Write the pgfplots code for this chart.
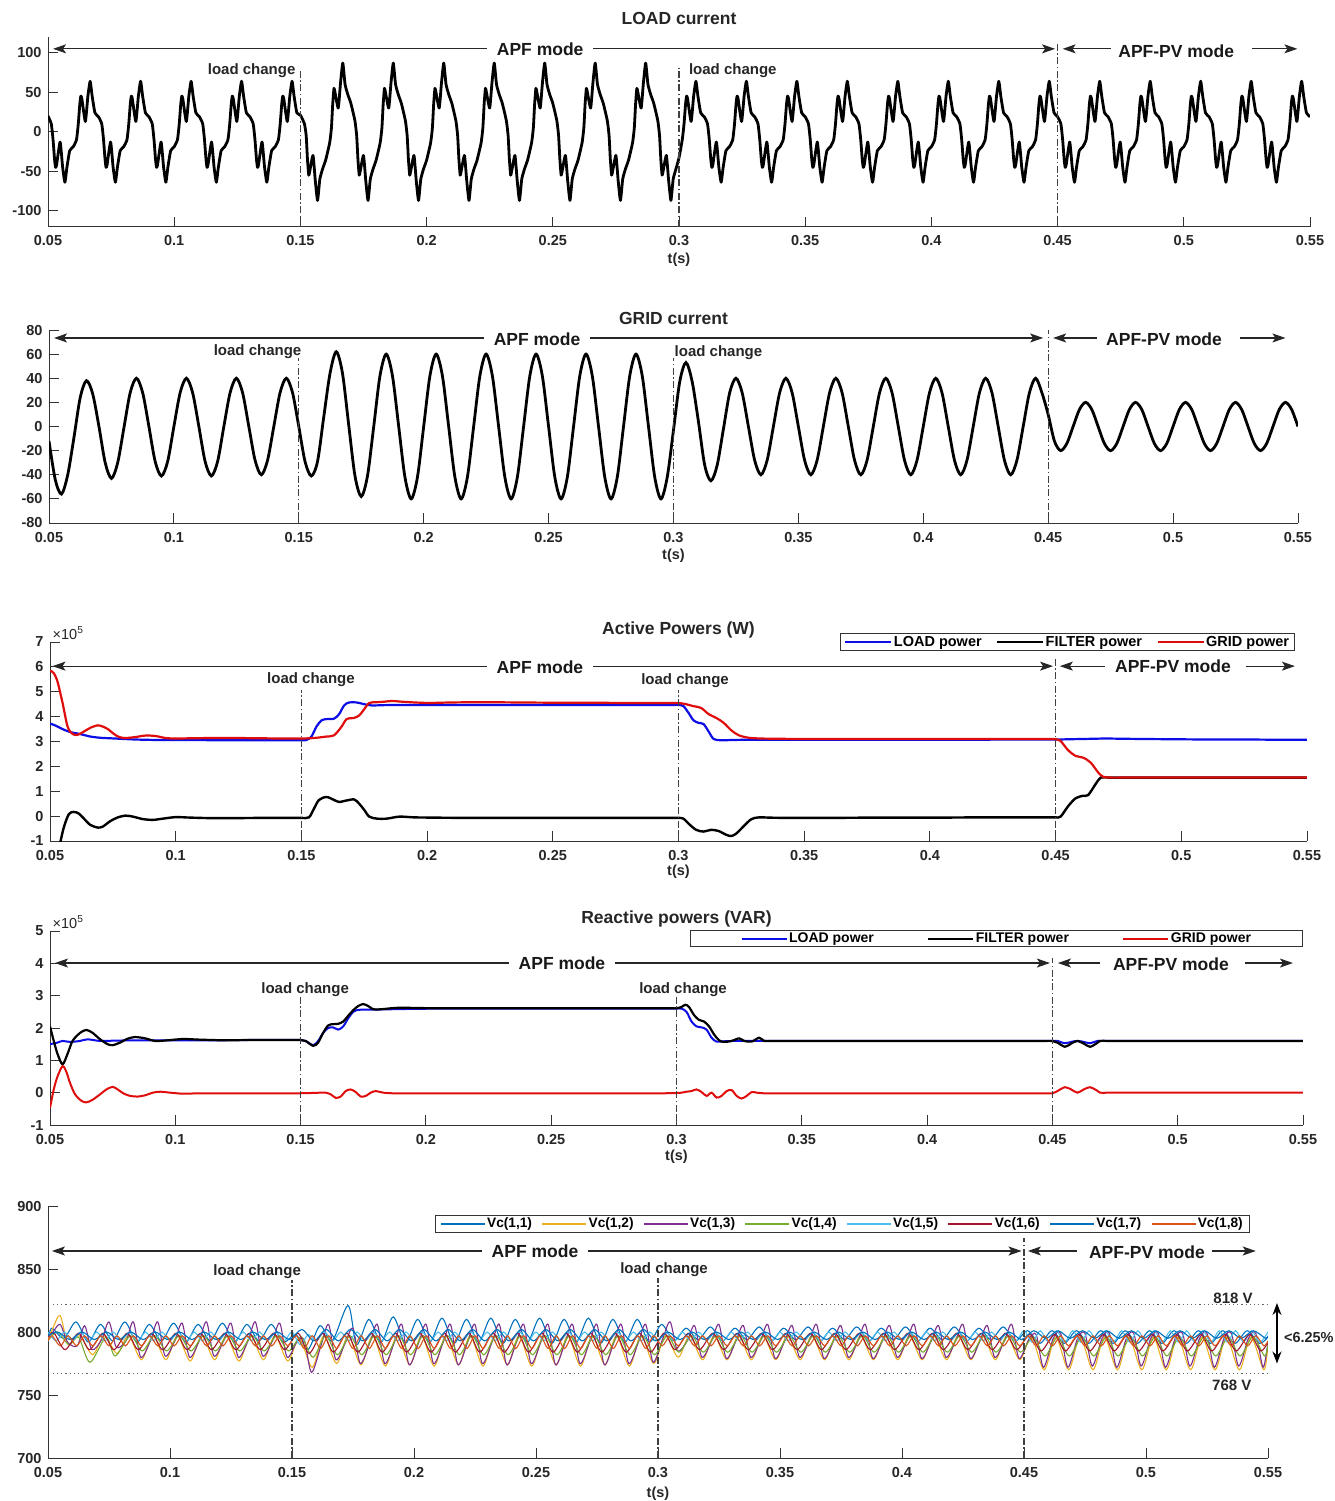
\documentclass[border=0pt]{standalone}
\usepackage{fontspec}
\setmainfont{Liberation Sans}
\usepackage{pgfplots}
\pgfplotsset{compat=1.18}
\usetikzlibrary{arrows.meta}
\newcommand{\tkf}{\fontsize{14.5}{16}\selectfont\bfseries}
\newcommand{\ttf}{\fontsize{17.5}{19}\selectfont\bfseries}
\newcommand{\lcf}{\fontsize{15}{16}\selectfont\bfseries}
\definecolor{mblue}{rgb}{0.05,0.05,0.9}
\definecolor{mred}{rgb}{0.88,0.05,0.05}
\definecolor{vca}{rgb}{0,0.447,0.741}
\definecolor{vcb}{rgb}{0.929,0.694,0.125}
\definecolor{vcc}{rgb}{0.494,0.184,0.556}
\definecolor{vcd}{rgb}{0.466,0.674,0.188}
\definecolor{vce}{rgb}{0.301,0.745,0.933}
\definecolor{vcf}{rgb}{0.635,0.078,0.184}
\definecolor{vcg}{rgb}{0,0.447,0.741}
\definecolor{vch}{rgb}{0.85,0.325,0.098}
\tikzset{
 dd/.style={line width=1.1pt, black!75, dash pattern=on 7pt off 2.5pt on 1.5pt off 2.5pt},
 arr/.style={line width=1.1pt, black!85, -{Stealth[length=13pt,width=9pt,inset=3pt]}},
 darr/.style={line width=1.1pt, black!85, {Stealth[length=13pt,width=9pt,inset=3pt]}-{Stealth[length=13pt,width=9pt,inset=3pt]}},
 mode/.style={font=\ttf, fill=white, inner xsep=10pt, inner ysep=2pt, text=black!90},
 pvmode/.style={font=\ttf, inner sep=1pt, text=black!90},
 lc/.style={font=\lcf, text=black!85, inner sep=1pt},
}
\pgfplotsset{
  panel/.style={
    scale only axis, axis lines*=left, axis line style={-, line width=0.9pt, black!80},
    enlargelimits=false, clip mode=individual,
    xmin=50, xmax=550,
    xtick={50,100,150,200,250,300,350,400,450,500,550},
    xticklabels={0.05,0.1,0.15,0.2,0.25,0.3,0.35,0.4,0.45,0.5,0.55},
    tick align=inside, major tick length=10pt,
    tick style={line width=0.9pt, black!80},
    x tick label style={font=\tkf, text=black!85, yshift=-5.5pt},
    y tick label style={font=\tkf, text=black!85, xshift=-3pt},
    xlabel={t(s)},
    xlabel style={font=\tkf, text=black!85, at={(axis description cs:0.5,0)}, anchor=center},
    title style={font=\ttf, text=black!85, at={(axis description cs:0.5,1)}, anchor=center},
  }
}
\begin{document}
\begin{tikzpicture}
\useasboundingbox (0,0) rectangle (1335pt,-1501pt);
%================ PANEL 1 =================
\begin{axis}[panel, at={(48pt,-226.5pt)}, anchor=south west, width=1262pt, height=189.5pt,
  ymin=-120, ymax=120, ytick={-100,-50,0,50,100}, yticklabels={-100,-50,0,50,100},
  title={LOAD current}, title style={yshift=13pt}, xlabel style={yshift=-33.5pt}]
\addplot[black, line width=2.8pt, smooth, tension=0.3, line join=round] coordinates {
(50,20)(51.3,10)(52,-10)(52.6,-35)(53,-45)(53.4,-42)(54.8,-13)(55.8,-45)(56.7,-64)(57.5,-45)(58.6,-24)(60,-19)(61.3,-10)(62,10)(62.6,35)(63,45)(63.4,42)(64.8,13)(65.8,45)(66.7,64)(67.5,45)(68.6,24)
(70,19)(71.3,10)(72,-10)(72.6,-35)(73,-45)(73.4,-42)(74.8,-13)(75.8,-45)(76.7,-64)(77.5,-45)(78.6,-24)(80,-19)(81.3,-10)(82,10)(82.6,35)(83,45)(83.4,42)(84.8,13)(85.8,45)(86.7,64)(87.5,45)(88.6,24)
(90,19)(91.3,10)(92,-10)(92.6,-35)(93,-45)(93.4,-42)(94.8,-13)(95.8,-45)(96.7,-64)(97.5,-45)(98.6,-24)(100,-19)(101.3,-10)(102,10)(102.6,35)(103,45)(103.4,42)(104.8,13)(105.8,45)(106.7,64)(107.5,45)(108.6,24)
(110,19)(111.3,10)(112,-10)(112.6,-35)(113,-45)(113.4,-42)(114.8,-13)(115.8,-45)(116.7,-64)(117.5,-45)(118.6,-24)(120,-19)(121.3,-10)(122,10)(122.6,35)(123,45)(123.4,42)(124.8,13)(125.8,45)(126.7,64)(127.5,45)(128.6,24)
(130,19)(131.3,10)(132,-10)(132.6,-35)(133,-45)(133.4,-42)(134.8,-13)(135.8,-45)(136.7,-64)(137.5,-45)(138.6,-24)(140,-19)(141.3,-10)(142,10)(142.6,35)(143,45)(143.4,42)(144.8,13)(145.8,45)(146.7,64)(147.5,45)(148.6,24)
(150,21)(151.6,10)(152.3,-5)(152.8,-35)(153.3,-55)(153.7,-50)(155,-30)(155.9,-62)(156.8,-87)(157.7,-60)(158.8,-47)(160,-36)(161.6,-14)(162.3,5)(162.8,35)(163.3,55)(163.7,50)(165,30)(165.9,62)(166.8,87)(167.7,60)(168.8,47)
(170,36)(171.6,14)(172.3,-5)(172.8,-35)(173.3,-55)(173.7,-50)(175,-30)(175.9,-62)(176.8,-87)(177.7,-60)(178.8,-47)(180,-36)(181.6,-14)(182.3,5)(182.8,35)(183.3,55)(183.7,50)(185,30)(185.9,62)(186.8,87)(187.7,60)(188.8,47)
(190,36)(191.6,14)(192.3,-5)(192.8,-35)(193.3,-55)(193.7,-50)(195,-30)(195.9,-62)(196.8,-87)(197.7,-60)(198.8,-47)(200,-36)(201.6,-14)(202.3,5)(202.8,35)(203.3,55)(203.7,50)(205,30)(205.9,62)(206.8,87)(207.7,60)(208.8,47)
(210,36)(211.6,14)(212.3,-5)(212.8,-35)(213.3,-55)(213.7,-50)(215,-30)(215.9,-62)(216.8,-87)(217.7,-60)(218.8,-47)(220,-36)(221.6,-14)(222.3,5)(222.8,35)(223.3,55)(223.7,50)(225,30)(225.9,62)(226.8,87)(227.7,60)(228.8,47)
(230,36)(231.6,14)(232.3,-5)(232.8,-35)(233.3,-55)(233.7,-50)(235,-30)(235.9,-62)(236.8,-87)(237.7,-60)(238.8,-47)(240,-36)(241.6,-14)(242.3,5)(242.8,35)(243.3,55)(243.7,50)(245,30)(245.9,62)(246.8,87)(247.7,60)(248.8,47)
(250,36)(251.6,14)(252.3,-5)(252.8,-35)(253.3,-55)(253.7,-50)(255,-30)(255.9,-62)(256.8,-87)(257.7,-60)(258.8,-47)(260,-36)(261.6,-14)(262.3,5)(262.8,35)(263.3,55)(263.7,50)(265,30)(265.9,62)(266.8,87)(267.7,60)(268.8,47)
(270,36)(271.6,14)(272.3,-5)(272.8,-35)(273.3,-55)(273.7,-50)(275,-30)(275.9,-62)(276.8,-87)(277.7,-60)(278.8,-47)(280,-36)(281.6,-14)(282.3,5)(282.8,35)(283.3,55)(283.7,50)(285,30)(285.9,62)(286.8,87)(287.7,60)(288.8,47)
(290,36)(291.6,14)(292.3,-5)(292.8,-35)(293.3,-55)(293.7,-50)(295,-30)(295.9,-62)(296.8,-87)(297.7,-60)(298.8,-47)(300,-33)
(301.3,-10)(302,10)(302.6,35)(303,45)(303.4,42)(304.8,13)(305.8,45)(306.7,64)(307.5,45)(308.6,24)
(310,19)(311.3,10)(312,-10)(312.6,-35)(313,-45)(313.4,-42)(314.8,-13)(315.8,-45)(316.7,-64)(317.5,-45)(318.6,-24)(320,-19)(321.3,-10)(322,10)(322.6,35)(323,45)(323.4,42)(324.8,13)(325.8,45)(326.7,64)(327.5,45)(328.6,24)
(330,19)(331.3,10)(332,-10)(332.6,-35)(333,-45)(333.4,-42)(334.8,-13)(335.8,-45)(336.7,-64)(337.5,-45)(338.6,-24)(340,-19)(341.3,-10)(342,10)(342.6,35)(343,45)(343.4,42)(344.8,13)(345.8,45)(346.7,64)(347.5,45)(348.6,24)
(350,19)(351.3,10)(352,-10)(352.6,-35)(353,-45)(353.4,-42)(354.8,-13)(355.8,-45)(356.7,-64)(357.5,-45)(358.6,-24)(360,-19)(361.3,-10)(362,10)(362.6,35)(363,45)(363.4,42)(364.8,13)(365.8,45)(366.7,64)(367.5,45)(368.6,24)
(370,19)(371.3,10)(372,-10)(372.6,-35)(373,-45)(373.4,-42)(374.8,-13)(375.8,-45)(376.7,-64)(377.5,-45)(378.6,-24)(380,-19)(381.3,-10)(382,10)(382.6,35)(383,45)(383.4,42)(384.8,13)(385.8,45)(386.7,64)(387.5,45)(388.6,24)
(390,19)(391.3,10)(392,-10)(392.6,-35)(393,-45)(393.4,-42)(394.8,-13)(395.8,-45)(396.7,-64)(397.5,-45)(398.6,-24)(400,-19)(401.3,-10)(402,10)(402.6,35)(403,45)(403.4,42)(404.8,13)(405.8,45)(406.7,64)(407.5,45)(408.6,24)
(410,19)(411.3,10)(412,-10)(412.6,-35)(413,-45)(413.4,-42)(414.8,-13)(415.8,-45)(416.7,-64)(417.5,-45)(418.6,-24)(420,-19)(421.3,-10)(422,10)(422.6,35)(423,45)(423.4,42)(424.8,13)(425.8,45)(426.7,64)(427.5,45)(428.6,24)
(430,19)(431.3,10)(432,-10)(432.6,-35)(433,-45)(433.4,-42)(434.8,-13)(435.8,-45)(436.7,-64)(437.5,-45)(438.6,-24)(440,-19)(441.3,-10)(442,10)(442.6,35)(443,45)(443.4,42)(444.8,13)(445.8,45)(446.7,64)(447.5,45)(448.6,24)
(450,19)(451.3,10)(452,-10)(452.6,-35)(453,-45)(453.4,-42)(454.8,-13)(455.8,-45)(456.7,-64)(457.5,-45)(458.6,-24)(460,-19)(461.3,-10)(462,10)(462.6,35)(463,45)(463.4,42)(464.8,13)(465.8,45)(466.7,64)(467.5,45)(468.6,24)
(470,19)(471.3,10)(472,-10)(472.6,-35)(473,-45)(473.4,-42)(474.8,-13)(475.8,-45)(476.7,-64)(477.5,-45)(478.6,-24)(480,-19)(481.3,-10)(482,10)(482.6,35)(483,45)(483.4,42)(484.8,13)(485.8,45)(486.7,64)(487.5,45)(488.6,24)
(490,19)(491.3,10)(492,-10)(492.6,-35)(493,-45)(493.4,-42)(494.8,-13)(495.8,-45)(496.7,-64)(497.5,-45)(498.6,-24)(500,-19)(501.3,-10)(502,10)(502.6,35)(503,45)(503.4,42)(504.8,13)(505.8,45)(506.7,64)(507.5,45)(508.6,24)
(510,19)(511.3,10)(512,-10)(512.6,-35)(513,-45)(513.4,-42)(514.8,-13)(515.8,-45)(516.7,-64)(517.5,-45)(518.6,-24)(520,-19)(521.3,-10)(522,10)(522.6,35)(523,45)(523.4,42)(524.8,13)(525.8,45)(526.7,64)(527.5,45)(528.6,24)
(530,19)(531.3,10)(532,-10)(532.6,-35)(533,-45)(533.4,-42)(534.8,-13)(535.8,-45)(536.7,-64)(537.5,-45)(538.6,-24)(540,-19)(541.3,-10)(542,10)(542.6,35)(543,45)(543.4,42)(544.8,13)(545.8,45)(546.7,64)(547.5,45)(548.6,24)
(550,19)};
\draw[darr] (axis cs:52,105) -- (axis cs:449,105);
\node[mode] at (axis cs:245,105) {APF mode};
\draw[arr] (axis cs:471,105) -- (axis cs:452,105);
\node[pvmode] at (axis cs:497,102) {APF-PV mode};
\draw[arr] (axis cs:527,105) -- (axis cs:545,105);
\draw[dd] (axis cs:150,-120) -- (axis cs:150,79);
\draw[dd] (axis cs:300,-120) -- (axis cs:300,81);
\draw[dd] (axis cs:450,-120) -- (axis cs:450,114);
\node[lc, anchor=east] at (axis cs:148.5,77) {load change};
\node[lc, anchor=west] at (axis cs:303.5,77) {load change};
\end{axis}
%================ PANEL 2 =================
\begin{axis}[panel, at={(49pt,-523pt)}, anchor=south west, width=1249pt, height=193pt,
  ymin=-80, ymax=80, ytick={-80,-60,-40,-20,0,20,40,60,80}, yticklabels={-80,-60,-40,-20,0,20,40,60,80},
  title={GRID current}, title style={yshift=6pt}, xlabel style={yshift=-33pt}]
\addplot[black, line width=2.8pt, smooth] coordinates {
(50,-12)(52.5,-44)(55,-56)(57.5,-40)(60,-9)(62.5,24)(65,38)(67.5,27)
(70,0)(72.5,-30)(75,-43)(77.5,-30)(80,-1)(82.5,28)(85,40)(87.5,28)
(90,0)(92.5,-29)(95,-41)(97.5,-29)(100,0)(102.5,28)(105,40)(107.5,28)
(110,0)(112.5,-29)(115,-41)(117.5,-29)(120,0)(122.5,28)(125,40)(127.5,28)
(130,0)(132.5,-28)(135,-40)(137.5,-28)(140,0)(142.5,28)(145,40)(147.5,28)
(150,0)(152.5,-29)(155,-41)(157.5,-29)(160,8)(162.5,44)(165,62)(167.5,44)
(170,1)(172.5,-41)(175,-58)(177.5,-41)(180,0)(182.5,42)(185,60)(187.5,42)
(190,0)(192.5,-42)(195,-60)(197.5,-42)(200,0)(202.5,42)(205,60)(207.5,42)
(210,0)(212.5,-42)(215,-60)(217.5,-42)(220,0)(222.5,42)(225,60)(227.5,42)
(230,0)(232.5,-42)(235,-60)(237.5,-42)(240,0)(242.5,42)(245,60)(247.5,42)
(250,0)(252.5,-42)(255,-60)(257.5,-42)(260,0)(262.5,42)(265,60)(267.5,42)
(270,0)(272.5,-42)(275,-60)(277.5,-42)(280,0)(282.5,42)(285,60)(287.5,42)
(290,0)(292.5,-42)(295,-60)(297.5,-42)(300,-3)(302.5,37)(305,53)(307.5,37)
(310,4)(312.5,-32)(315,-45)(317.5,-32)(320,-2)(322.5,28)(325,40)(327.5,28)
(330,0)(332.5,-28)(335,-40)(337.5,-28)(340,0)(342.5,28)(345,40)(347.5,28)
(350,0)(352.5,-28)(355,-40)(357.5,-28)(360,0)(362.5,28)(365,40)(367.5,28)
(370,0)(372.5,-28)(375,-40)(377.5,-28)(380,0)(382.5,28)(385,40)(387.5,28)
(390,0)(392.5,-28)(395,-40)(397.5,-28)(400,0)(402.5,28)(405,40)(407.5,28)
(410,0)(412.5,-28)(415,-40)(417.5,-28)(420,0)(422.5,28)(425,40)(427.5,28)
(430,0)(432.5,-28)(435,-40)(437.5,-28)(440,0)(442.5,28)(445,40)(447.5,28)
(450,10)(452.5,-12)(455,-20)(457.5,-14)(460,0)(462.5,14)(465,20)(467.5,14)
(470,0)(472.5,-14)(475,-20)(477.5,-14)(480,0)(482.5,14)(485,20)(487.5,14)
(490,0)(492.5,-14)(495,-20)(497.5,-14)(500,0)(502.5,14)(505,20)(507.5,14)
(510,0)(512.5,-14)(515,-20)(517.5,-14)(520,0)(522.5,14)(525,20)(527.5,14)
(530,0)(532.5,-14)(535,-20)(537.5,-14)(540,0)(542.5,14)(545,20)(547.5,14)
(550,0)};
\draw[darr] (axis cs:52,73.4) -- (axis cs:448,73.4);
\node[mode] at (axis cs:245.4,72.5) {APF mode};
\draw[arr] (axis cs:469.6,73.4) -- (axis cs:452,73.4);
\node[pvmode] at (axis cs:496.4,72.6) {APF-PV mode};
\draw[arr] (axis cs:527,73.4) -- (axis cs:545,73.4);
\draw[dd] (axis cs:150,-80) -- (axis cs:150,57);
\draw[dd] (axis cs:300,-80) -- (axis cs:300,57);
\draw[dd] (axis cs:450,-80) -- (axis cs:450,80);
\node[lc, anchor=east] at (axis cs:151.5,62) {load change};
\node[lc, anchor=west] at (axis cs:300,61) {load change};
\end{axis}
%================ PANEL 3 =================
\begin{axis}[panel, at={(50pt,-841pt)}, anchor=south west, width=1257pt, height=199pt,
  ymin=-1, ymax=7, ytick={-1,0,1,2,3,4,5,6,7}, yticklabels={-1,0,1,2,3,4,5,6,7},
  title={Active Powers (W)}, title style={yshift=6pt}, xlabel style={yshift=-31pt},
  legend style={at={(0.9905,1.045)}, anchor=north east, legend columns=3,
    font=\fontsize{14.5}{15}\selectfont\bfseries, draw=black!80, line width=0.8pt,
    inner xsep=4pt, inner ysep=1pt, nodes={inner sep=1.5pt},
    /tikz/every even column/.append style={column sep=13pt}, cells={anchor=west}},
  legend image code/.code={\draw[#1, line width=2pt] (0pt,0pt) -- (46pt,0pt);}]
\addplot[color=mblue, line width=2.2pt, smooth] coordinates {
(50,3.72)(52,3.65)(55,3.5)(58,3.38)(62,3.3)(66,3.2)(70,3.15)(76,3.12)(84,3.08)(94,3.06)(106,3.06)(118,3.05)(130,3.05)(140,3.05)(146,3.05)(150,3.05)(152,3.06)(154,3.2)(156,3.6)(158,3.85)(160,3.9)(163,3.92)(165,4.1)(167,4.45)(169,4.57)(172,4.57)(175,4.5)(178,4.45)(182,4.46)(188,4.47)(196,4.47)(208,4.47)(222,4.47)(236,4.47)(250,4.47)(264,4.47)(278,4.47)(288,4.47)(294,4.47)(298,4.47)(300,4.47)(302,4.42)(304,4.15)(306,3.85)(308,3.75)(310,3.7)(312,3.4)(314,3.1)(317,3.05)(321,3.06)(327,3.07)(336,3.07)(348,3.07)(362,3.07)(376,3.07)(390,3.07)(404,3.07)(418,3.07)(430,3.08)(438,3.08)(444,3.08)(448,3.08)(451,3.08)(455,3.09)(460,3.1)(465,3.11)(470,3.12)(477,3.11)(486,3.1)(498,3.09)(512,3.08)(526,3.08)(540,3.07)(550,3.07)};
\addlegendentry{LOAD power}
\addplot[color=black, line width=2.4pt, smooth] coordinates {
(50,-3)(52,-2)(54,-1.1)(55.5,-0.45)(57.5,0.08)(59.5,0.17)(61.5,0.1)(63.5,-0.1)(66,-0.35)(69,-0.46)(71,-0.42)(74,-0.2)(77,-0.05)(80,0.02)(83,-0.02)(87,-0.12)(91,-0.15)(95,-0.1)(100,-0.04)(106,-0.06)(114,-0.08)(124,-0.08)(134,-0.07)(142,-0.07)(147,-0.07)(150,-0.07)(153,-0.05)(155,0.3)(157,0.65)(160,0.77)(163,0.65)(165,0.57)(168,0.63)(171,0.67)(173,0.5)(175,0.25)(177,-0.02)(180,-0.1)(184,-0.1)(189,-0.02)(195,-0.05)(203,-0.06)(214,-0.07)(228,-0.07)(242,-0.07)(256,-0.07)(270,-0.07)(282,-0.07)(290,-0.07)(295,-0.07)(298,-0.07)(300,-0.07)(302,-0.1)(304,-0.3)(307,-0.55)(310,-0.62)(313,-0.55)(316,-0.6)(319,-0.75)(321,-0.8)(323,-0.7)(326,-0.4)(329,-0.12)(332,-0.05)(336,-0.06)(342,-0.07)(350,-0.07)(362,-0.07)(376,-0.06)(390,-0.06)(404,-0.06)(418,-0.05)(430,-0.05)(438,-0.05)(444,-0.05)(448,-0.05)(450,-0.05)(452,-0.02)(455,0.4)(458,0.72)(461,0.82)(463,0.85)(466,1.3)(468,1.55)(471,1.55)(476,1.55)(482,1.55)(490,1.55)(500,1.55)(512,1.55)(526,1.55)(540,1.55)(550,1.55)};
\addlegendentry{FILTER power}
\addplot[color=mred, line width=2.2pt, smooth] coordinates {
(50,5.85)(51.5,5.75)(53,5.4)(55,4.55)(57,3.6)(59,3.3)(61,3.27)(63.5,3.4)(66,3.55)(69,3.65)(71,3.6)(73,3.5)(75.5,3.3)(77.5,3.18)(80,3.14)(84,3.18)(88,3.24)(92,3.22)(96,3.14)(100,3.12)(106,3.13)(114,3.14)(124,3.14)(134,3.13)(142,3.12)(147,3.12)(150,3.12)(153,3.13)(156,3.15)(160,3.2)(163,3.25)(166,3.6)(168,3.9)(171,3.95)(173,4.05)(175,4.3)(177,4.55)(180,4.58)(183,4.6)(186,4.63)(190,4.6)(195,4.57)(201,4.55)(210,4.57)(222,4.58)(236,4.57)(250,4.56)(264,4.56)(278,4.55)(288,4.55)(294,4.55)(298,4.55)(300,4.55)(303,4.5)(306,4.42)(309,4.35)(312,4.1)(315,3.95)(318,3.75)(321,3.45)(324,3.25)(328,3.15)(333,3.12)(340,3.11)(350,3.1)(362,3.1)(376,3.1)(390,3.1)(404,3.1)(418,3.1)(430,3.1)(438,3.1)(444,3.1)(448,3.1)(450,3.09)(452,3.02)(455,2.65)(458,2.42)(461,2.35)(464,2.15)(467,1.75)(469,1.58)(472,1.55)(476,1.55)(482,1.55)(490,1.55)(500,1.55)(512,1.55)(526,1.55)(540,1.55)(550,1.55)};
\addlegendentry{GRID power}
\node[anchor=west, inner sep=0pt, font=\fontsize{14.5}{15}\selectfont, text=black!85] at (axis cs:51,7.36) {×10\textsuperscript{5}};
\draw[darr] (axis cs:51,6.03) -- (axis cs:449,6.03);
\node[mode] at (axis cs:244.9,5.97) {APF mode};
\draw[arr] (axis cs:469.6,6.03) -- (axis cs:451.7,6.03);
\node[pvmode] at (axis cs:496.7,6.03) {APF-PV mode};
\draw[arr] (axis cs:525.7,6.03) -- (axis cs:545.2,6.03);
\draw[dd] (axis cs:150,-1) -- (axis cs:150,5.07);
\draw[dd] (axis cs:300,-1) -- (axis cs:300,5.07);
\draw[dd] (axis cs:450,-1) -- (axis cs:450,6.4);
\node[lc] at (axis cs:153.8,5.47) {load change};
\node[lc] at (axis cs:302.6,5.43) {load change};
\end{axis}
%================ PANEL 4 =================
\begin{axis}[panel, at={(50pt,-1125pt)}, anchor=south west, width=1253pt, height=194pt,
  ymin=-1, ymax=5, ytick={-1,0,1,2,3,4,5}, yticklabels={-1,0,1,2,3,4,5},
  title={Reactive powers (VAR)}, title style={yshift=6pt}, xlabel style={yshift=-32pt},
  legend style={at={(1.0,1.005)}, anchor=north east, legend columns=3,
    font=\fontsize{14}{15}\selectfont\bfseries, draw=black!80, line width=0.8pt,
    inner xsep=50pt, inner ysep=1pt, nodes={inner sep=1.5pt},
    /tikz/every even column/.append style={column sep=52pt}, cells={anchor=west}},
  legend image code/.code={\draw[#1, line width=2pt] (0pt,0pt) -- (45pt,0pt);}]
\addplot[color=mblue, line width=2pt, smooth] coordinates {
(50,1.5)(53,1.55)(55,1.6)(58,1.57)(62,1.6)(65,1.65)(70,1.6)(76,1.61)(84,1.62)(94,1.62)(106,1.62)(118,1.62)(130,1.63)(140,1.63)(146,1.63)(150,1.63)(152,1.6)(155,1.47)(157,1.6)(159,1.85)(161,2.0)(163,2.02)(165,1.95)(167,2.05)(169,2.3)(171,2.5)(173,2.56)(176,2.57)(180,2.57)(186,2.58)(194,2.59)(206,2.6)(220,2.6)(234,2.6)(248,2.6)(262,2.6)(276,2.6)(288,2.6)(294,2.6)(298,2.6)(300,2.6)(302,2.6)(304,2.5)(306,2.2)(308,2.05)(310,2.02)(312,1.95)(314,1.7)(316,1.58)(319,1.59)(323,1.6)(330,1.6)(340,1.6)(352,1.6)(366,1.6)(380,1.6)(394,1.6)(408,1.6)(420,1.6)(430,1.6)(438,1.6)(444,1.6)(448,1.6)(450,1.6)(452,1.6)(455,1.53)(458,1.58)(460,1.6)(462,1.58)(465,1.53)(468,1.6)(471,1.6)(476,1.6)(482,1.6)(490,1.6)(500,1.6)(512,1.6)(526,1.6)(540,1.6)(550,1.6)};
\addlegendentry{LOAD power}
\addplot[color=black, line width=2.2pt, smooth] coordinates {
(50,2.05)(51.5,1.6)(53,1.2)(55,0.88)(57,1.2)(59,1.6)(62,1.85)(64.5,1.94)(67,1.85)(70,1.65)(73,1.5)(75,1.47)(78,1.55)(81,1.67)(84,1.72)(88,1.68)(92,1.6)(97,1.62)(103,1.66)(110,1.64)(120,1.62)(130,1.63)(140,1.63)(146,1.63)(150,1.63)(152,1.6)(155,1.45)(157,1.55)(159,1.85)(161,2.08)(163,2.12)(165,2.13)(167,2.2)(169,2.38)(171,2.55)(173,2.68)(175,2.74)(177,2.68)(179,2.58)(182,2.58)(186,2.61)(190,2.63)(196,2.62)(206,2.61)(220,2.61)(234,2.61)(248,2.61)(262,2.61)(276,2.61)(288,2.61)(294,2.61)(298,2.61)(300,2.61)(302,2.65)(303.5,2.72)(305,2.65)(307,2.4)(309,2.25)(311,2.2)(313,2.05)(315,1.8)(317,1.62)(319,1.57)(322,1.6)(325,1.68)(327,1.6)(330,1.58)(333,1.7)(335,1.6)(338,1.6)(343,1.6)(350,1.6)(360,1.6)(374,1.6)(388,1.6)(402,1.6)(416,1.6)(428,1.6)(437,1.6)(443,1.6)(447,1.6)(450,1.6)(452,1.55)(455,1.42)(457.5,1.52)(460,1.6)(462.5,1.52)(465,1.42)(467.5,1.52)(469,1.6)(472,1.6)(477,1.6)(484,1.6)(494,1.6)(506,1.6)(520,1.6)(535,1.6)(550,1.6)};
\addlegendentry{FILTER power}
\addplot[color=mred, line width=2pt, smooth] coordinates {
(50,-0.47)(51.5,0.1)(53,0.5)(55,0.82)(56.5,0.65)(58,0.3)(60,-0.05)(62.5,-0.25)(64.5,-0.3)(67,-0.22)(70,-0.05)(72.5,0.1)(75,0.18)(77,0.1)(79.5,-0.03)(82,-0.1)(85,-0.12)(88,-0.08)(91,0.0)(94,0.03)(98,0)(103,-0.03)(110,-0.02)(120,-0.02)(130,-0.02)(140,-0.02)(148,-0.02)(154,-0.01)(158,0)(160,0)(162,-0.05)(164,-0.16)(166,-0.12)(168,0.05)(170,0.1)(172,0.02)(174,-0.12)(176,-0.1)(178,0.0)(180,0.05)(183,0)(187,-0.02)(193,-0.02)(202,-0.02)(214,-0.02)(228,-0.02)(242,-0.02)(256,-0.02)(270,-0.02)(282,-0.02)(290,-0.02)(295,-0.02)(298,-0.01)(300,-0.01)(302,0)(304,0.03)(306,0.05)(308,0.1)(310,0.02)(312,-0.1)(314,0.0)(316,-0.15)(318,-0.1)(320,0.05)(322,0.08)(324,-0.1)(326,-0.18)(328,-0.1)(330,0.02)(332,0.0)(335,-0.02)(339,-0.02)(345,-0.02)(354,-0.02)(366,-0.02)(380,-0.02)(394,-0.02)(408,-0.02)(420,-0.02)(430,-0.02)(438,-0.02)(444,-0.02)(448,-0.02)(450,-0.02)(452,0.05)(455,0.17)(457.5,0.1)(460,0.0)(462.5,0.1)(465,0.17)(467.5,0.08)(469,0.0)(472,0)(477,0)(484,0)(494,0)(506,0)(520,0)(535,0)(550,0)};
\addlegendentry{GRID power}
\node[anchor=west, inner sep=0pt, font=\fontsize{14.5}{15}\selectfont, text=black!85] at (axis cs:51,5.28) {×10\textsuperscript{5}};
\draw[darr] (axis cs:52,4.01) -- (axis cs:449,4.01);
\node[mode] at (axis cs:254.3,4.0) {APF mode};
\draw[arr] (axis cs:469,4.01) -- (axis cs:452.2,4.01);
\node[pvmode] at (axis cs:497.3,3.98) {APF-PV mode};
\draw[arr] (axis cs:526.9,4.01) -- (axis cs:546,4.01);
\draw[dd] (axis cs:150,-1) -- (axis cs:150,2.96);
\draw[dd] (axis cs:300,-1) -- (axis cs:300,2.96);
\draw[dd] (axis cs:450,-1) -- (axis cs:450,4.17);
\node[lc] at (axis cs:151.8,3.18) {load change};
\node[lc] at (axis cs:302.6,3.18) {load change};
\end{axis}
%================ PANEL 5 =================
\begin{axis}[panel, at={(48pt,-1458pt)}, anchor=south west, width=1220pt, height=252pt,
  ymin=700, ymax=900, ytick={700,750,800,850,900}, yticklabels={700,750,800,850,900},
  xlabel style={yshift=-36pt},
  legend style={at={(0.985,0.964)}, anchor=north east, legend columns=8,
    font=\fontsize{13.7}{15}\selectfont\bfseries, draw=black!80, line width=0.8pt,
    inner xsep=5pt, inner ysep=1pt, nodes={inner sep=1.5pt},
    /tikz/every even column/.append style={column sep=8pt}, cells={anchor=west}},
  legend image code/.code={\draw[#1, line width=1.6pt] (0pt,0pt) -- (44pt,0pt);}]
\addplot[color=vca, line width=1.1pt, smooth] coordinates {
(50,792)(51.5,803)(56.5,795)(61.5,808)(66.5,792)(71.5,806)(76.5,793)(81.5,808)(86.5,792)(91.5,806)(96.5,793)(101.5,807)(106.5,792)(111.5,806)(116.5,793)(121.5,807)(126.5,792)(131.5,806)(136.5,793)(141.5,806)(146.5,792)
(151.5,798)(156.5,786)(161.5,805)(166.5,793)(173,821)(176.5,790)(181.5,810)(186.5,792)(191.5,812)(196.5,791)(201.5,810)(206.5,792)(211.5,811)(216.5,791)(221.5,810)(226.5,792)(231.5,811)(236.5,791)(241.5,810)(246.5,792)(251.5,811)(256.5,791)(261.5,810)(266.5,792)(271.5,811)(276.5,791)(281.5,810)(286.5,792)(291.5,810)(296.5,792)
(301.5,806)(306.5,793)(311.5,803)(316.5,794)(321.5,804)(326.5,793)(331.5,803)(336.5,794)(341.5,804)(346.5,793)(351.5,803)(356.5,794)(361.5,804)(366.5,793)(371.5,803)(376.5,794)(381.5,804)(386.5,793)(391.5,803)(396.5,794)(401.5,804)(406.5,793)(411.5,803)(416.5,794)(421.5,804)(426.5,793)(431.5,803)(436.5,794)(441.5,804)(446.5,793)
(451.5,801)(456.5,791)(461.5,801)(466.5,791)(471.5,801)(476.5,791)(481.5,801)(486.5,791)(491.5,801)(496.5,791)(501.5,801)(506.5,791)(511.5,801)(516.5,791)(521.5,801)(526.5,791)(531.5,801)(536.5,791)(541.5,801)(546.5,791)(550,796)};
\addlegendentry{Vc(1,1)}
\addplot[color=vcb, line width=1.1pt, smooth] coordinates {
(50,794)(52,803)(55,813)(58.3,790)(63,797)(68.3,782)(73,797)(78.3,783)(83,797)(88.3,778)(93,797)(98.3,778)(103,797)(108.3,777)(113,797)(118.3,778)(123,797)(128.3,777)(133,797)(138.3,778)(143,797)(148.3,777)
(153,795)(158.3,772)(163,797)(168.3,775)(173,797)(178.3,774)(183,797)(188.3,773)(193,797)(198.3,774)(203,797)(208.3,773)(213,797)(218.3,774)(223,797)(228.3,773)(233,797)(238.3,774)(243,797)(248.3,773)(253,797)(258.3,774)(263,797)(268.3,773)(273,797)(278.3,774)(283,797)(288.3,773)(293,797)(298.3,775)
(303,797)(308.3,780)(313,797)(318.3,778)(323,797)(328.3,778)(333,797)(338.3,778)(343,797)(348.3,778)(353,797)(358.3,778)(363,797)(368.3,778)(373,797)(378.3,778)(383,797)(388.3,778)(393,797)(398.3,778)(403,797)(408.3,778)(413,797)(418.3,778)(423,797)(428.3,778)(433,797)(438.3,778)(443,797)(448.3,778)
(453,796)(458.3,770)(463,796)(468.3,770)(473,796)(478.3,770)(483,796)(488.3,770)(493,796)(498.3,770)(503,796)(508.3,770)(513,796)(518.3,770)(523,796)(528.3,770)(533,796)(538.3,770)(543,796)(548.3,770)(550,790)};
\addlegendentry{Vc(1,2)}
\addplot[color=vcc, line width=1.1pt, smooth] coordinates {
(50,796)(52,800)(55,806)(58,792)(62,789)(65,805)(68,786)(72,794)(75,808)(78,788)(82,793)(85,808)(88,780)(92,793)(95,808)(98,781)(102,793)(105,807)(108,780)(112,793)(115,808)(118,781)(122,793)(125,807)(128,780)(132,793)(135,808)(138,781)(142,793)(145,807)(148,780)
(152,792)(155,794)(158,768)(162,790)(165,806)(168,778)(172,792)(175,803)(178,775)(182,792)(185,806)(188,775)(192,792)(195,806)(198,774)(202,792)(205,806)(208,775)(212,792)(215,806)(218,774)(222,792)(225,806)(228,775)(232,792)(235,806)(238,774)(242,792)(245,806)(248,775)(252,792)(255,806)(258,774)(262,792)(265,806)(268,775)(272,792)(275,806)(278,774)(282,792)(285,806)(288,775)(292,792)(295,806)(298,776)
(302,795)(305,808)(308,785)(312,793)(315,805)(318,780)(322,793)(325,806)(328,779)(332,793)(335,805)(338,780)(342,793)(345,806)(348,779)(352,793)(355,805)(358,780)(362,793)(365,806)(368,779)(372,793)(375,805)(378,780)(382,793)(385,806)(388,779)(392,793)(395,805)(398,780)(402,793)(405,806)(408,779)(412,793)(415,805)(418,780)(422,793)(425,806)(428,779)(432,793)(435,805)(438,780)(442,793)(445,806)(448,779)
(452,794)(455,798)(458,772)(462,795)(465,799)(468,772)(472,795)(475,799)(478,773)(482,795)(485,799)(488,772)(492,795)(495,799)(498,773)(502,795)(505,799)(508,772)(512,795)(515,799)(518,773)(522,795)(525,799)(528,772)(532,795)(535,799)(538,773)(542,795)(545,799)(548,772)(550,792)};
\addlegendentry{Vc(1,3)}
\addplot[color=vcd, line width=1.1pt, smooth] coordinates {
(50,793)(53.8,800)(58.6,790)(62.5,796)(67.2,776)(73.8,796)(77.5,781)(83.8,797)(88.6,785)(93.8,797)(98.6,785)(103.8,797)(108.6,785)(113.8,797)(118.6,785)(123.8,797)(128.6,785)(133.8,797)(138.6,785)(143.8,797)(148.6,785)
(153.8,796)(158.6,780)(163.8,797)(168.6,782)(173.8,797)(178.6,782)(183.8,797)(188.6,782)(193.8,797)(198.6,782)(203.8,797)(208.6,782)(213.8,797)(218.6,782)(223.8,797)(228.6,782)(233.8,797)(238.6,782)(243.8,797)(248.6,782)(253.8,797)(258.6,782)(263.8,797)(268.6,782)(273.8,797)(278.6,782)(283.8,797)(288.6,782)(293.8,797)(298.6,782)
(303.8,797)(308.6,784)(313.8,797)(318.6,784)(323.8,797)(328.6,784)(333.8,797)(338.6,784)(343.8,797)(348.6,784)(353.8,797)(358.6,784)(363.8,797)(368.6,784)(373.8,797)(378.6,784)(383.8,797)(388.6,784)(393.8,797)(398.6,784)(403.8,797)(408.6,784)(413.8,797)(418.6,784)(423.8,797)(428.6,784)(433.8,797)(438.6,784)(443.8,797)(448.6,784)
(453.8,796)(458.6,781)(463.8,796)(468.6,781)(473.8,796)(478.6,781)(483.8,796)(488.6,781)(493.8,796)(498.6,781)(503.8,796)(508.6,781)(513.8,796)(518.6,781)(523.8,796)(528.6,781)(533.8,796)(538.6,781)(543.8,796)(548.6,781)(550,790)};
\addlegendentry{Vc(1,4)}
\addplot[color=vce, line width=1.1pt, smooth] coordinates {
(50,800)(53.3,793)(56.7,800)(60,793)(63.3,800)(66.7,793)(70,800)(73.3,793)(76.7,800)(80,793)(83.3,800)(86.7,793)(90,800)(93.3,793)(96.7,800)(100,793)(103.3,800)(106.7,793)(110,800)(113.3,793)(116.7,800)(120,793)(123.3,800)(126.7,793)(130,800)(133.3,793)(136.7,800)(140,793)(143.3,800)(146.7,793)
(150,800)(153.3,790)(156.7,798)(160,793)(163.3,800)(166.7,793)(170,800)(173.3,793)(176.7,800)(180,793)(183.3,800)(186.7,793)(190,800)(193.3,793)(196.7,800)(200,793)(203.3,800)(206.7,793)(210,800)(213.3,793)(216.7,800)(220,793)(223.3,800)(226.7,793)(230,800)(233.3,793)(236.7,800)(240,793)(243.3,800)(246.7,793)(250,800)(253.3,793)(256.7,800)(260,793)(263.3,800)(266.7,793)(270,800)(273.3,793)(276.7,800)(280,793)(283.3,800)(286.7,793)(290,800)(293.3,793)(296.7,800)
(300,793)(303.3,800)(306.7,793)(310,800)(313.3,793)(316.7,800)(320,793)(323.3,800)(326.7,793)(330,800)(333.3,793)(336.7,800)(340,793)(343.3,800)(346.7,793)(350,800)(353.3,793)(356.7,800)(360,793)(363.3,800)(366.7,793)(370,800)(373.3,793)(376.7,800)(380,793)(383.3,800)(386.7,793)(390,800)(393.3,793)(396.7,800)(400,793)(403.3,800)(406.7,793)(410,800)(413.3,793)(416.7,800)(420,793)(423.3,800)(426.7,793)(430,800)(433.3,793)(436.7,800)(440,793)(443.3,800)(446.7,793)
(450,801)(453.3,792)(456.7,801)(460,792)(463.3,801)(466.7,792)(470,801)(473.3,792)(476.7,801)(480,792)(483.3,801)(486.7,792)(490,801)(493.3,792)(496.7,801)(500,792)(503.3,801)(506.7,792)(510,801)(513.3,792)(516.7,801)(520,792)(523.3,801)(526.7,792)(530,801)(533.3,792)(536.7,801)(540,792)(543.3,801)(546.7,792)(550,800)};
\addlegendentry{Vc(1,5)}
\addplot[color=vcf, line width=1.1pt, smooth] coordinates {
(50,796)(52.5,799)(57,786)(62.5,799)(67,786)(72.5,799)(77,786)(82.5,799)(87,786)(92.5,799)(97,786)(102.5,799)(107,786)(112.5,799)(117,786)(122.5,799)(127,786)(132.5,799)(137,786)(142.5,799)(147,786)
(152.5,799)(157,783)(162.5,799)(167,784)(172.5,799)(177,784)(182.5,799)(187,784)(192.5,799)(197,784)(202.5,799)(207,784)(212.5,799)(217,784)(222.5,799)(227,784)(232.5,799)(237,784)(242.5,799)(247,784)(252.5,799)(257,784)(262.5,799)(267,784)(272.5,799)(277,784)(282.5,799)(287,784)(292.5,799)(297,784)
(302.5,799)(307,786)(312.5,799)(317,786)(322.5,799)(327,786)(332.5,799)(337,786)(342.5,799)(347,786)(352.5,799)(357,786)(362.5,799)(367,786)(372.5,799)(377,786)(382.5,799)(387,786)(392.5,799)(397,786)(402.5,799)(407,786)(412.5,799)(417,786)(422.5,799)(427,786)(432.5,799)(437,786)(442.5,799)(447,786)
(452.5,798)(457,785)(462.5,798)(467,785)(472.5,798)(477,785)(482.5,798)(487,785)(492.5,798)(497,785)(502.5,798)(507,785)(512.5,798)(517,785)(522.5,798)(527,785)(532.5,798)(537,785)(542.5,798)(547,785)(550,792)};
\addlegendentry{Vc(1,6)}
\addplot[color=vcg, line width=1.1pt, smooth] coordinates {
(50,797)(54,800)(59,794)(64,800)(69,794)(74,800)(79,794)(84,800)(89,794)(94,800)(99,794)(104,800)(109,794)(114,800)(119,794)(124,800)(129,794)(134,800)(139,794)(144,800)(149,794)
(154,802)(159,793)(164,802)(169,793)(174,802)(179,793)(184,802)(189,793)(194,802)(199,793)(204,802)(209,793)(214,802)(219,793)(224,802)(229,793)(234,802)(239,793)(244,802)(249,793)(254,802)(259,793)(264,802)(269,793)(274,802)(279,793)(284,802)(289,793)(294,802)(299,793)
(304,800)(309,794)(314,800)(319,794)(324,800)(329,794)(334,800)(339,794)(344,800)(349,794)(354,800)(359,794)(364,800)(369,794)(374,800)(379,794)(384,800)(389,794)(394,800)(399,794)(404,800)(409,794)(414,800)(419,794)(424,800)(429,794)(434,800)(439,794)(444,800)(449,794)
(454,801)(459,795)(464,801)(469,795)(474,801)(479,795)(484,801)(489,795)(494,801)(499,795)(504,801)(509,795)(514,801)(519,795)(524,801)(529,795)(534,801)(539,795)(544,801)(549,795)(550,797)};
\addlegendentry{Vc(1,7)}
\addplot[color=vch, line width=1.1pt, smooth] coordinates {
(50,793)(51.7,797)(55,789)(58.3,797)(61.7,789)(65,797)(68.3,789)(71.7,797)(75,789)(78.3,797)(81.7,789)(85,797)(88.3,789)(91.7,797)(95,789)(98.3,797)(101.7,789)(105,797)(108.3,789)(111.7,797)(115,789)(118.3,797)(121.7,789)(125,797)(128.3,789)(131.7,797)(135,789)(138.3,797)(141.7,789)(145,797)(148.3,789)
(151.7,797)(155,787)(158.3,797)(161.7,787)(165,797)(168.3,787)(171.7,797)(175,787)(178.3,797)(181.7,787)(185,797)(188.3,787)(191.7,797)(195,787)(198.3,797)(201.7,787)(205,797)(208.3,787)(211.7,797)(215,787)(218.3,797)(221.7,787)(225,797)(228.3,787)(231.7,797)(235,787)(238.3,797)(241.7,787)(245,797)(248.3,787)(251.7,797)(255,787)(258.3,797)(261.7,787)(265,797)(268.3,787)(271.7,797)(275,787)(278.3,797)(281.7,787)(285,797)(288.3,787)(291.7,797)(295,787)(298.3,797)
(301.7,789)(305,797)(308.3,789)(311.7,797)(315,789)(318.3,797)(321.7,789)(325,797)(328.3,789)(331.7,797)(335,789)(338.3,797)(341.7,789)(345,797)(348.3,789)(351.7,797)(355,789)(358.3,797)(361.7,789)(365,797)(368.3,789)(371.7,797)(375,789)(378.3,797)(381.7,789)(385,797)(388.3,789)(391.7,797)(395,789)(398.3,797)(401.7,789)(405,797)(408.3,789)(411.7,797)(415,789)(418.3,797)(421.7,789)(425,797)(428.3,789)(431.7,797)(435,789)(438.3,797)(441.7,789)(445,797)(448.3,789)
(451.7,797)(455,789)(458.3,797)(461.7,789)(465,797)(468.3,789)(471.7,797)(475,789)(478.3,797)(481.7,789)(485,797)(488.3,789)(491.7,797)(495,789)(498.3,797)(501.7,789)(505,797)(508.3,789)(511.7,797)(515,789)(518.3,797)(521.7,789)(525,797)(528.3,789)(531.7,797)(535,789)(538.3,797)(541.7,789)(545,797)(548.3,789)(550,793)};
\addlegendentry{Vc(1,8)}
\draw[line width=1pt, black!60, dash pattern=on 1.2pt off 3pt] (axis cs:52,822) -- (axis cs:550,822);
\draw[line width=1pt, black!60, dash pattern=on 1.2pt off 3pt] (axis cs:52,767) -- (axis cs:550,767);
\draw[darr] (axis cs:51.6,864.3) -- (axis cs:449,864.3);
\node[mode] at (axis cs:249.6,864) {APF mode};
\draw[arr] (axis cs:471.7,864.3) -- (axis cs:451.6,864.3);
\node[pvmode] at (axis cs:500.4,863.5) {APF-PV mode};
\draw[arr] (axis cs:527,864.3) -- (axis cs:545,864.3);
\draw[dd] (axis cs:150,700) -- (axis cs:150,841);
\draw[dd] (axis cs:300,700) -- (axis cs:300,843);
\draw[dd] (axis cs:450,700) -- (axis cs:450,874.6);
\node[lc] at (axis cs:135.7,847.6) {load change};
\node[lc] at (axis cs:302.5,849.2) {load change};
\node[lc] at (axis cs:535.7,827) {818 V};
\node[lc] at (axis cs:535.2,758) {768 V};
\draw[line width=1.5pt, black, {Stealth[length=12pt,width=9pt]}-{Stealth[length=12pt,width=9pt]}] (axis cs:553.7,775) -- (axis cs:553.7,823);
\node[lc, anchor=west, font=\tkf] at (axis cs:556.1,796) {<6.25\%};
\end{axis}
\end{tikzpicture}
\end{document}
